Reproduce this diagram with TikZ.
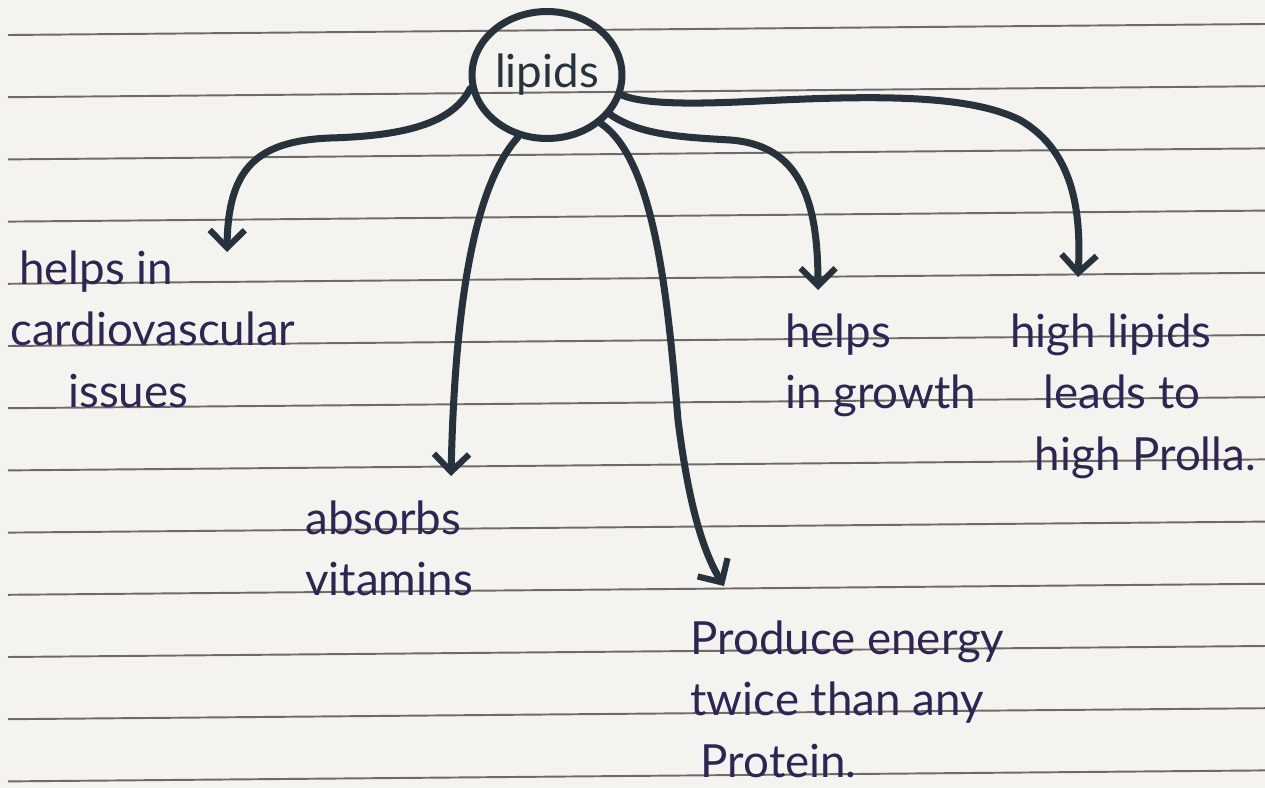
\documentclass[tikz,border=0pt]{standalone}
\usepackage{fontspec}
\setmainfont{Lato}
\usetikzlibrary{arrows.meta,shapes.geometric}
\definecolor{paper}{HTML}{F5F3F0}
\definecolor{rulecol}{HTML}{6E6A68}
\definecolor{ink}{HTML}{28323C}
\definecolor{pen}{HTML}{2E2552}
\tikzset{
  conn/.style={draw=ink, line width=4pt, line cap=round,
    -{Straight Barb[length=10pt,width=20pt,line width=3.5pt]}},
  note/.style={text=pen, font=\fontsize{26}{35.2}\selectfont, align=left,
    anchor=north west, inner sep=0pt},
  hub/.style={ellipse, draw=ink, line width=4pt, minimum width=3cm,
    minimum height=2.54cm, inner sep=0pt, text=ink,
    font=\fontsize{26}{30}\selectfont},
  ruleline/.style={draw=rulecol, line width=1.1pt}
}
\begin{document}
\begin{tikzpicture}[x=0.02cm,y=-0.02cm]
\useasboundingbox (0,0) rectangle (1265,788);
\fill[paper] (0,0) rectangle (1265,788);
\foreach \k in {0,...,12}{
  \draw[ruleline] (8,{35+62.2*\k}) -- (1265,{24+62.2*\k});
}
\node[hub] (lipids) at (547,75) {lipids};
\node[note] (cardio) at (10,250) {\hspace*{5pt}helps in\\cardiovascular\\\hspace*{33pt}issues};
\node[note] (absorbs) at (305,500) {absorbs\\vitamins};
\node[note] (energy) at (690,620) {Produce energy\\twice than any\\\hspace*{6pt}Protein.};
\node[note] (growth) at (785,313) {helps\\in growth};
\node[note] (high) at (1010,313) {high lipids\\\hspace*{19pt}leads to\\\hspace*{14pt}high Prolla.};
\coordinate (t1) at (227,252);
\coordinate (t2) at (451,476);
\coordinate (t3) at (724,586);
\coordinate (t4) at (818,290);
\coordinate (t5) at (1078,277);
\draw[conn] (lipids.190) .. controls (452,125) and (400,136) .. (330,138)
  .. controls (255,141) and (228,170) .. (t1);
\draw[conn] (lipids.245) .. controls (475,185) and (455,300) .. (t2);
\draw[conn] (lipids.318) .. controls (655,160) and (668,300) .. (678,420)
  .. controls (688,500) and (702,550) .. (t3);
\draw[conn] (lipids.328) .. controls (640,135) and (680,137) .. (730,140)
  .. controls (800,145) and (818,200) .. (t4);
\draw[conn] (lipids.345) .. controls (645,105) and (700,104) .. (760,101)
  .. controls (880,95) and (970,95) .. (1020,120)
  .. controls (1068,148) and (1082,200) .. (t5);
\end{tikzpicture}
\end{document}
